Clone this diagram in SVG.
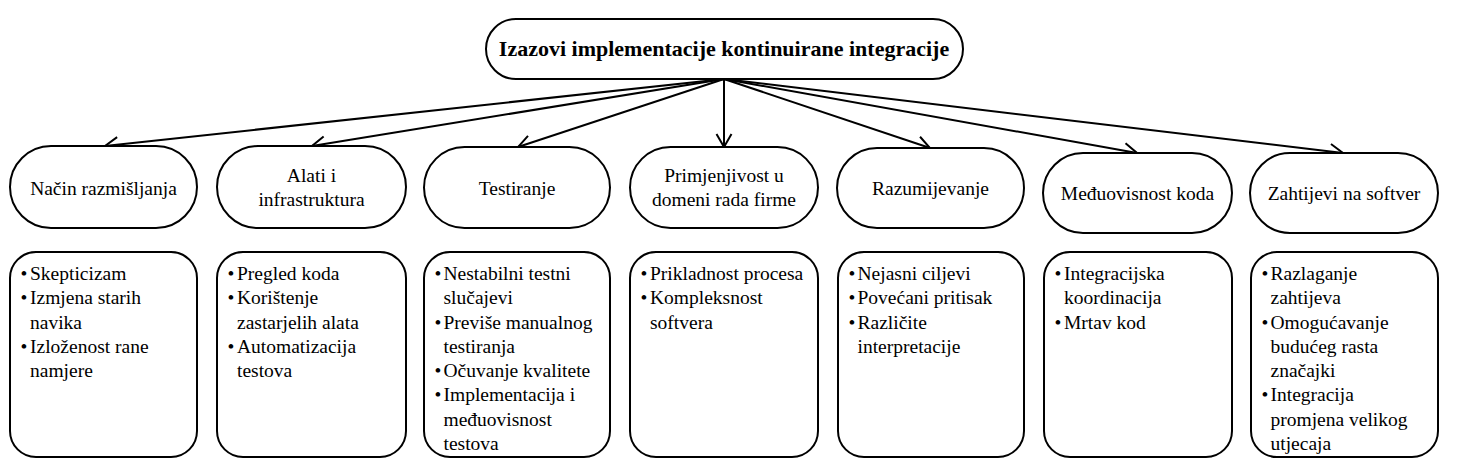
<svg xmlns="http://www.w3.org/2000/svg" width="1461" height="473" viewBox="0 0 1461 473" font-family="'Liberation Serif', 'Times New Roman', 'DejaVu Serif', serif">
<style>
.box{fill:#fff;stroke:#000;stroke-width:2}
.t{font-size:19.5px;fill:#000}
.c{text-anchor:middle}
.title{font-size:22px;font-weight:bold;text-anchor:middle;fill:#000}
.con line{stroke:#000;stroke-width:2;marker-end:url(#arr)}
</style>
<defs>
<marker id="arr" markerWidth="16" markerHeight="20" viewBox="-15 -10 16 20" refX="0" refY="0" orient="auto" markerUnits="userSpaceOnUse">
<path d="M-13,-7.5 L0,0 L-13,7.5" fill="none" stroke="#000" stroke-width="2"/>
</marker>
</defs>
<rect width="1461" height="473" fill="#fff"/>
<g id="connectors" class="con">
<line x1="724" y1="79" x2="105" y2="146"/>
<line x1="724" y1="79" x2="312" y2="146"/>
<line x1="724" y1="79" x2="518" y2="147"/>
<line x1="724" y1="79" x2="724" y2="147"/>
<line x1="724" y1="79" x2="930" y2="148"/>
<line x1="724" y1="79" x2="1137" y2="153"/>
<line x1="724" y1="79" x2="1343" y2="153"/>
</g>
<g id="root">
<rect class="box" x="486" y="19" width="477" height="60" rx="30"/>
<text class="title" x="724" y="56">Izazovi implementacije kontinuirane integracije</text>
</g>
<g id="n1">
<rect class="box" x="10" y="146" width="187" height="82" rx="41"/>
<text class="t c" x="103.5" y="194.5">Način razmišljanja</text>
</g>
<g id="n2">
<rect class="box" x="217" y="146" width="189" height="82" rx="41"/>
<text class="t c" x="311.5" y="182">Alati i</text>
<text class="t c" x="311.5" y="206">infrastruktura</text>
</g>
<g id="n3">
<rect class="box" x="424" y="147" width="186" height="81" rx="40.5"/>
<text class="t c" x="517" y="194.5">Testiranje</text>
</g>
<g id="n4">
<rect class="box" x="630" y="147" width="188" height="81" rx="40.5"/>
<text class="t c" x="724" y="182">Primjenjivost u</text>
<text class="t c" x="724" y="206">domeni rada firme</text>
</g>
<g id="n5">
<rect class="box" x="837" y="148" width="187" height="80" rx="40"/>
<text class="t c" x="930.5" y="195">Razumijevanje</text>
</g>
<g id="n6">
<rect class="box" x="1043" y="153" width="189" height="80" rx="40"/>
<text class="t c" x="1137.5" y="200">Međuovisnost koda</text>
</g>
<g id="n7">
<rect class="box" x="1250" y="153" width="188" height="80" rx="40"/>
<text class="t c" x="1344" y="200">Zahtijevi na softver</text>
</g>
<g id="b1">
<rect class="box" x="10" y="252" width="187" height="205" rx="26"/>
<text class="t c" x="24" y="280">•</text><text class="t" x="30" y="280">Skepticizam</text>
<text class="t c" x="24" y="304.3">•</text><text class="t" x="30" y="304.3">Izmjena starih</text>
<text class="t" x="30" y="328.5">navika</text>
<text class="t c" x="24" y="352.7">•</text><text class="t" x="30" y="352.7">Izloženost rane</text>
<text class="t" x="30" y="377">namjere</text>
</g>
<g id="b2">
<rect class="box" x="217" y="252" width="189" height="205" rx="26"/>
<text class="t c" x="231" y="280">•</text><text class="t" x="237" y="280">Pregled koda</text>
<text class="t c" x="231" y="304.3">•</text><text class="t" x="237" y="304.3">Korištenje</text>
<text class="t" x="237" y="328.5">zastarjelih alata</text>
<text class="t c" x="231" y="352.7">•</text><text class="t" x="237" y="352.7">Automatizacija</text>
<text class="t" x="237" y="377">testova</text>
</g>
<g id="b3">
<rect class="box" x="424" y="252" width="186" height="205" rx="26"/>
<text class="t c" x="438" y="280">•</text><text class="t" x="443.5" y="280">Nestabilni testni</text>
<text class="t" x="443.5" y="304.3">slučajevi</text>
<text class="t c" x="438" y="328.5">•</text><text class="t" x="443.5" y="328.5">Previše manualnog</text>
<text class="t" x="443.5" y="352.7">testiranja</text>
<text class="t c" x="438" y="377">•</text><text class="t" x="443.5" y="377">Očuvanje kvalitete</text>
<text class="t c" x="438" y="401.2">•</text><text class="t" x="443.5" y="401.2">Implementacija i</text>
<text class="t" x="443.5" y="425.5">međuovisnost</text>
<text class="t" x="443.5" y="449.7">testova</text>
</g>
<g id="b4">
<rect class="box" x="630" y="252" width="188" height="205" rx="26"/>
<text class="t c" x="644" y="280">•</text><text class="t" x="650" y="280">Prikladnost procesa</text>
<text class="t c" x="644" y="304.3">•</text><text class="t" x="650" y="304.3">Kompleksnost</text>
<text class="t" x="650" y="328.5">softvera</text>
</g>
<g id="b5">
<rect class="box" x="838" y="252" width="186" height="205" rx="26"/>
<text class="t c" x="852" y="280">•</text><text class="t" x="857.5" y="280">Nejasni ciljevi</text>
<text class="t c" x="852" y="304.3">•</text><text class="t" x="857.5" y="304.3">Povećani pritisak</text>
<text class="t c" x="852" y="328.5">•</text><text class="t" x="857.5" y="328.5">Različite</text>
<text class="t" x="857.5" y="352.7">interpretacije</text>
</g>
<g id="b6">
<rect class="box" x="1044" y="252" width="188" height="205" rx="26"/>
<text class="t c" x="1058" y="280">•</text><text class="t" x="1064" y="280">Integracijska</text>
<text class="t" x="1064" y="304.3">koordinacija</text>
<text class="t c" x="1058" y="328.5">•</text><text class="t" x="1064" y="328.5">Mrtav kod</text>
</g>
<g id="b7">
<rect class="box" x="1251" y="252" width="187" height="205" rx="26"/>
<text class="t c" x="1265" y="280">•</text><text class="t" x="1270.5" y="280">Razlaganje</text>
<text class="t" x="1270.5" y="304.3">zahtijeva</text>
<text class="t c" x="1265" y="328.5">•</text><text class="t" x="1270.5" y="328.5">Omogućavanje</text>
<text class="t" x="1270.5" y="352.7">budućeg rasta</text>
<text class="t" x="1270.5" y="377">značajki</text>
<text class="t c" x="1265" y="401.2">•</text><text class="t" x="1270.5" y="401.2">Integracija</text>
<text class="t" x="1270.5" y="425.5">promjena velikog</text>
<text class="t" x="1270.5" y="449.7">utjecaja</text>
</g>
</svg>
